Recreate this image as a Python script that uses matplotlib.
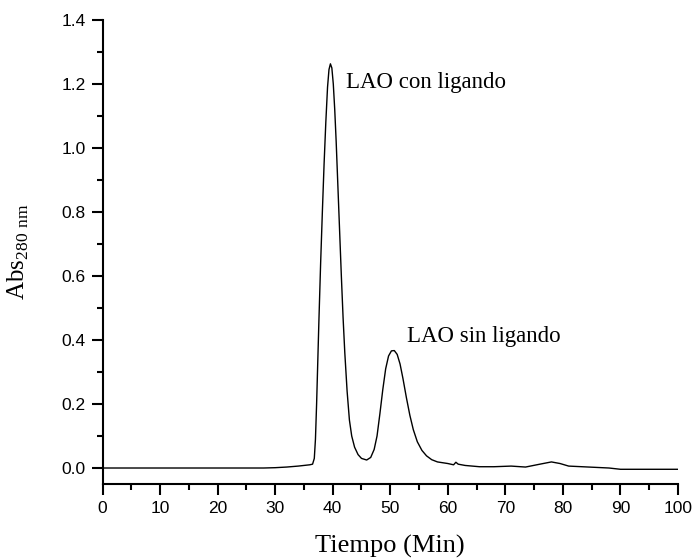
import matplotlib
matplotlib.use("Agg")
import matplotlib.pyplot as plt
from matplotlib.ticker import MultipleLocator

# chromatogram
tiempo = [0, 10, 20, 28, 30, 32, 34, 35, 36, 36.5, 36.8, 37.0, 37.2, 37.4, 37.6,
          37.9, 38.2, 38.5, 38.8, 39.1, 39.35, 39.6, 39.85, 40.1, 40.35, 40.6,
          40.9, 41.2, 41.5, 41.8, 42.1, 42.5, 42.9, 43.3, 43.8, 44.4, 45.0, 45.9,
          46.6, 47.2, 47.7, 48.2, 48.7, 49.2, 49.7, 50.2, 50.7, 51.2, 51.7, 52.2,
          52.8, 53.4, 54.0, 54.7, 55.5, 56.3, 57.2, 58.2, 60.0, 61.0, 61.4, 61.8,
          63, 65.5, 68, 71, 73.5, 76, 78, 79.5, 81, 84.5, 88, 90, 100]
absorb = [0, 0, 0, 0, 0.001, 0.003, 0.006, 0.008, 0.01, 0.012, 0.03, 0.09, 0.2,
          0.33, 0.46, 0.64, 0.8, 0.95, 1.08, 1.19, 1.245, 1.263, 1.25, 1.2, 1.12,
          1.02, 0.88, 0.74, 0.6, 0.47, 0.36, 0.24, 0.15, 0.1, 0.065, 0.042, 0.03,
          0.025, 0.033, 0.058, 0.1, 0.17, 0.245, 0.31, 0.35, 0.366, 0.367, 0.355,
          0.325, 0.28, 0.22, 0.165, 0.12, 0.082, 0.055, 0.038, 0.026, 0.019, 0.014,
          0.01, 0.018, 0.012, 0.008, 0.004, 0.004, 0.006, 0.003, 0.012, 0.019,
          0.014, 0.006, 0.003, 0.0, -0.004, -0.004]

etiquetas = ["LAO con ligando", "LAO sin ligando"]
etiq_x = [42.3, 52.9]
etiq_y = [1.205, 0.41]

fig = plt.figure(figsize=(6.94, 5.58), dpi=100)
ax = fig.add_axes([0.1477, 0.1326, 0.8293, 0.8316])

ax.plot(tiempo, absorb, color="black", linewidth=1.0)

for t, x, y in zip(etiquetas, etiq_x, etiq_y):
    ax.text(x, y, t, fontsize=16.5, family="Liberation Serif", va="center", ha="left")

ax.set_xlim(0, 100)
ax.set_ylim(-0.05, 1.4)
ax.xaxis.set_major_locator(MultipleLocator(10))
ax.xaxis.set_minor_locator(MultipleLocator(5))
ax.yaxis.set_major_locator(MultipleLocator(0.2))
ax.yaxis.set_minor_locator(MultipleLocator(0.1))
ax.yaxis.set_major_formatter(plt.FormatStrFormatter("%.1f"))

ax.spines["top"].set_visible(False)
ax.spines["right"].set_visible(False)
ax.spines["left"].set_linewidth(1.5)
ax.spines["bottom"].set_linewidth(1.5)
ax.tick_params(which="major", direction="out", length=8, width=1.5, pad=4,
               labelsize=12.5, labelfontfamily="Liberation Sans")
ax.tick_params(which="minor", direction="out", length=4, width=1.5)

ax.set_xlabel("Tiempo (Min)", fontsize=19, family="Liberation Serif")
ax.set_ylabel(r"Abs$_{\mathregular{280\ nm}}$", fontsize=18, family="Liberation Serif")
ax.xaxis.set_label_coords(0.5, -0.11)
ax.yaxis.set_label_coords(-0.125, 0.5)

fig.savefig("out.png", dpi=100)
